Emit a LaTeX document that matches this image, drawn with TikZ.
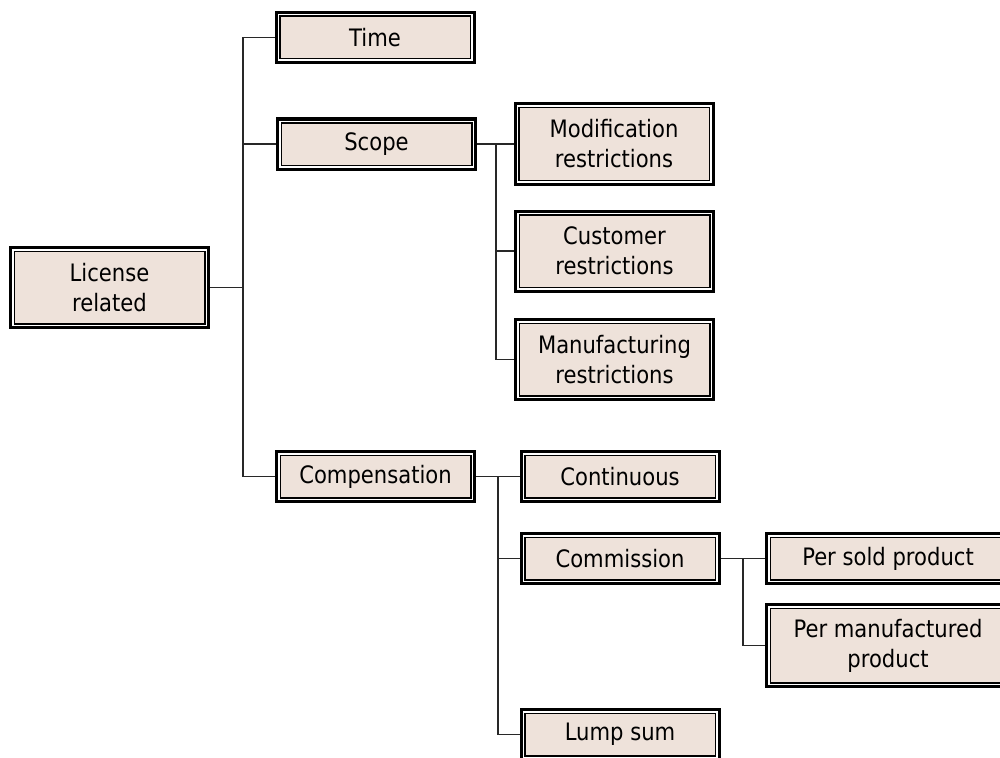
\documentclass[tikz,border=0pt]{standalone}
\usepackage{fontspec}
\setmainfont{DejaVu Sans}[FakeStretch=0.88]
\definecolor{boxfill}{RGB}{238,226,218}
\definecolor{linecol}{RGB}{40,40,40}
\tikzset{
  box/.style={fill=boxfill, draw=black, line width=1.5pt,
    preaction={draw=black, line width=10.5pt},
    preaction={draw=white, line width=4.5pt},
    inner sep=0pt, outer sep=5.25pt, align=center,
    font=\fontsize{24}{30}\selectfont,
    minimum width=190.5pt, minimum height=42.5pt},
  tallbox/.style={box, minimum height=72.5pt},
  widebox/.style={box, minimum width=235.5pt},
  conn/.style={draw=linecol, line width=1.3pt}
}
\begin{document}
\begin{tikzpicture}[x=1pt,y=-1pt]
\useasboundingbox (0,0) rectangle (1000,757);
\clip (0,0) rectangle (1000,757);
% coordinates of branch points
\coordinate (tl) at (243,287.5);
\coordinate (ts) at (496,144);
\coordinate (tc) at (498,476.5);
\coordinate (tm) at (743,558.5);
% nodes
\node[tallbox] (lic) at (109.5,287.5) {License\\related};
\node[box] (time) at (375,37.5) {Time};
\node[box] (scope) at (376.5,144) {Scope};
\node[tallbox] (mod) at (614,144) {Modification\\restrictions};
\node[tallbox] (cust) at (614.5,251) {Customer\\restrictions};
\node[tallbox] (manu) at (614.5,359.5) {Manufacturing\\restrictions};
\node[box] (comp) at (375.5,476.5) {Compensation};
\node[box] (cont) at (620,476.5) {Continuous};
\node[box] (commi) at (620,558.5) {Commission};
\node[widebox] (persold) at (888,558.5) {Per sold product};
\node[widebox, minimum height=74.5pt] (perman) at (888,645.5) {Per manufactured\\product};
\node[box] (lump) at (620,734.5) {Lump sum};
% connectors
\draw[conn] (lic.east) -- (tl);
\draw[conn] (time.west) -| (tl);
\draw[conn] (scope.west) -| (tl);
\draw[conn] (comp.west) -| (tl);
\draw[conn] (scope.east) -- (ts);
\draw[conn] (mod.west) -| (ts);
\draw[conn] (cust.west) -| (ts);
\draw[conn] (manu.west) -| (ts);
\draw[conn] (comp.east) -- (tc);
\draw[conn] (cont.west) -| (tc);
\draw[conn] (commi.west) -| (tc);
\draw[conn] (lump.west) -| (tc);
\draw[conn] (commi.east) -- (tm);
\draw[conn] (persold.west) -| (tm);
\draw[conn] (perman.west) -| (tm);
\end{tikzpicture}
\end{document}
